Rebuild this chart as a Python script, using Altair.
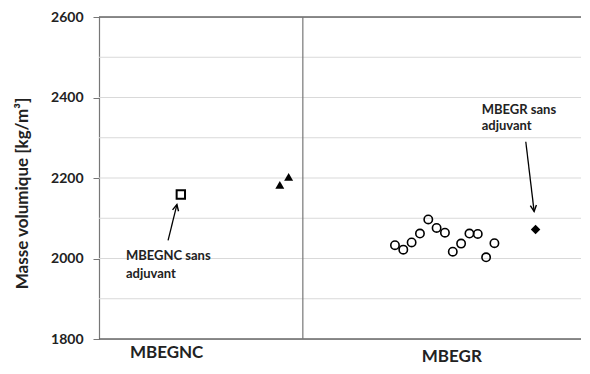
import altair as alt
import pandas as pd

FONT = "Lato"

# y values (kg/m3) and x positions (0-100 across the plot)
nc_ref_x = [16.7]
nc_ref_y = [2159]
nc_tri_x = [36.9, 38.7]
nc_tri_y = [2183, 2203]
gr_x = [60.4, 62.1, 63.8, 65.5, 67.2, 68.9, 70.6, 72.2, 73.9, 75.6, 77.3, 79.0, 80.7]
gr_y = [2033, 2022, 2040, 2062, 2097, 2076, 2064, 2017, 2037, 2062, 2061, 2003, 2038]
gr_ref_x = [89.1]
gr_ref_y = [2072]
divider_x = [41.6]
grid_vals = [1900, 2000, 2100, 2200, 2300, 2400, 2500]
ytick_vals = [1800, 2000, 2200, 2400, 2600]
group_labels = ["MBEGNC", "MBEGR"]
group_label_x = [13.8, 72.0]

W = 482
H = 322
xs = alt.Scale(domain=[0, W / 4.9], nice=False, zero=False)
ys = alt.Scale(domain=[1800, 2600], nice=False, zero=False)

YAX = alt.Axis(
    values=ytick_vals, format="d", grid=False, domain=True, domainColor="#777777",
    domainWidth=1.2, ticks=True, tickSize=6, tickColor="#777777", labelFont=FONT,
    labelFontSize=14, labelFontWeight="bold", labelColor="#222222", labelPadding=10,
    title="Masse volumique  [kg/m³]", titleFont=FONT, titleFontSize=17,
    titleFontWeight="bold", titleColor="#222222", titleX=-77, titleY=176,
    titleAngle=270, titleAlign="center", titleBaseline="middle")

X = lambda f: alt.X(f, type="quantitative", scale=xs, axis=None)
Y = lambda f: alt.Y(f, type="quantitative", scale=ys, axis=YAX)

grid = alt.Chart(pd.DataFrame({"y": grid_vals})).mark_rule(
    color="#d9d9d9", strokeWidth=1
).encode(y=Y("y"))

frame = alt.Chart(pd.DataFrame({"y": [1800, 2600]})).mark_rule(
    color="#666666", strokeWidth=1.3
).encode(y=Y("y"))

divider = alt.Chart(pd.DataFrame({"x": divider_x})).mark_rule(
    color="#777777", strokeWidth=1.2
).encode(x=X("x"))

sq = alt.Chart(pd.DataFrame({"x": nc_ref_x, "y": nc_ref_y})).mark_point(
    shape="square", filled=False, color="black", strokeWidth=2, size=70, opacity=1
).encode(x=X("x"), y=Y("y"))

tri = alt.Chart(pd.DataFrame({"x": nc_tri_x, "y": nc_tri_y})).mark_point(
    shape="triangle-up", filled=True, color="black", size=80, opacity=1
).encode(x=X("x"), y=Y("y"))

circ = alt.Chart(pd.DataFrame({"x": gr_x, "y": gr_y})).mark_point(
    shape="circle", filled=False, color="black", strokeWidth=1.6, size=70, opacity=1
).encode(x=X("x"), y=Y("y"))

dia = alt.Chart(pd.DataFrame({"x": gr_ref_x, "y": gr_ref_y})).mark_point(
    shape="diamond", filled=True, color="black", size=90, opacity=1
).encode(x=X("x"), y=Y("y"))

# arrows: tail (x, y) -> head (x2, y2)
arrows = pd.DataFrame({
    "x": [14.1, 87.1], "y": [2045, 2290],
    "x2": [15.9, 88.8], "y2": [2134, 2117],
    "angle": [13, 173],
})
shaft = alt.Chart(arrows).mark_rule(color="black", strokeWidth=1.3).encode(
    x=X("x"), y=Y("y"), x2="x2", y2="y2")
head = alt.Chart(arrows).mark_point(
    shape="M -0.5 1 L 0 0 L 0.5 1", filled=False, color="black",
    strokeWidth=1.4, size=150, opacity=1
).encode(x=X("x2"), y=Y("y2"), angle=alt.Angle("angle:Q", scale=None))

ann = pd.DataFrame({
    "x": [5.5, 5.5, 78.1, 78.1],
    "y": [2006, 1962, 2369, 2328],
    "t": ["MBEGNC sans", "adjuvant", "MBEGR sans", "adjuvant"],
})
ann_text = alt.Chart(ann).mark_text(
    font=FONT, fontSize=13, fontWeight="bold", color="#222222", align="left",
    baseline="middle"
).encode(x=X("x"), y=Y("y"), text="t:N")

gl = pd.DataFrame({"x": group_label_x, "y": [1800, 1800], "t": group_labels})
glab1 = alt.Chart(gl).transform_filter("datum.t == 'MBEGNC'").mark_text(
    font=FONT, fontSize=17, fontWeight="bold", color="#222222", baseline="middle", dy=14
).encode(x=X("x"), y=Y("y"), text="t:N")
glab2 = alt.Chart(gl).transform_filter("datum.t == 'MBEGR'").mark_text(
    font=FONT, fontSize=17, fontWeight="bold", color="#222222", baseline="middle", dy=18
).encode(x=X("x"), y=Y("y"), text="t:N")

chart = alt.layer(grid, frame, divider, shaft, head, sq, tri, circ, dia, ann_text,
                  glab1, glab2).properties(
    width=W, height=H,
    autosize=alt.AutoSizeParams(type="none"),
    padding={"left": 91, "top": 9, "right": 0, "bottom": 26},
).configure_view(stroke=None).configure(background="white")

chart.save("out.html", embed_options={"renderer": "svg", "actions": False})
